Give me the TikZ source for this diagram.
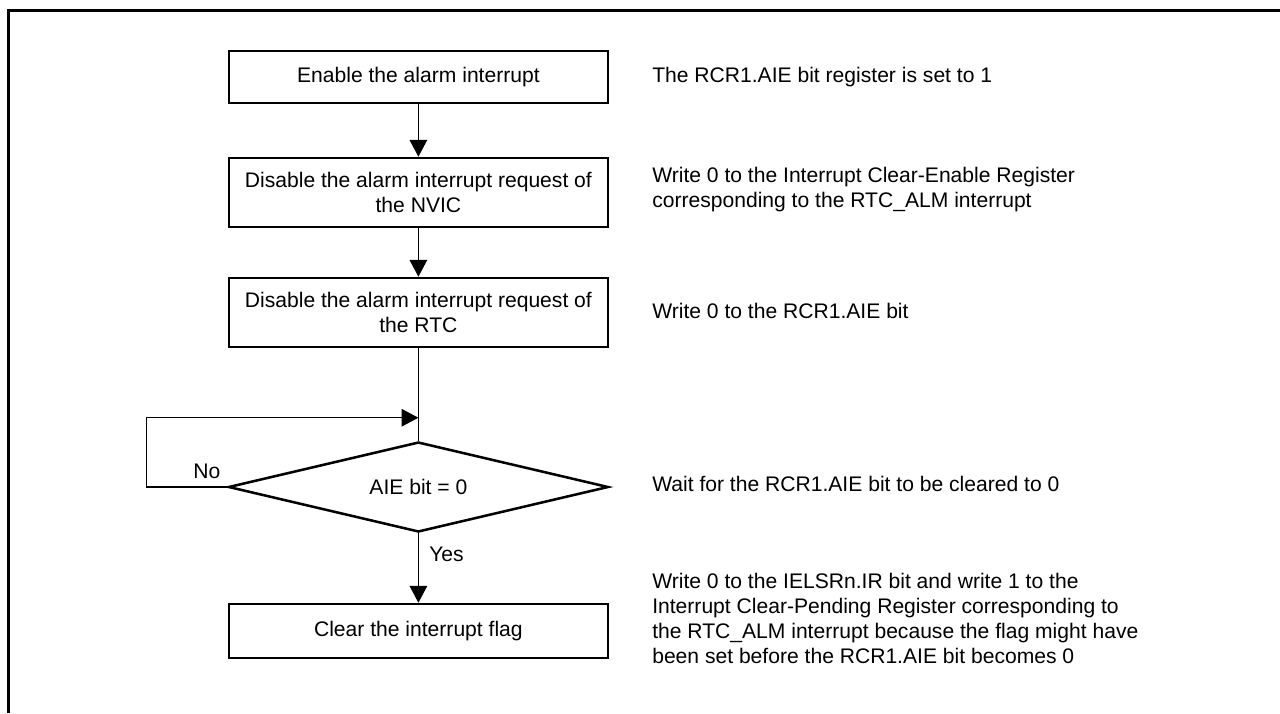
\documentclass[tikz,border=0pt]{standalone}
\usepackage{fontspec}
\setmainfont{Liberation Sans}
\usepackage{tikz}
\usetikzlibrary{shapes.geometric,arrows.meta,positioning,calc}

\begin{document}
\begin{tikzpicture}[
    stepbox/.style={draw, line width=1.8pt, minimum width=9.475cm, inner sep=0pt, align=center},
    decision/.style={draw, diamond, line width=1.8pt, minimum width=9.5cm, minimum height=2.25cm, aspect=4.2, inner sep=0pt},
    note/.style={anchor=west, inner sep=0pt, align=left},
    arrow/.style={-{Triangle[length=12pt, width=12.5pt]}, line width=0.9pt},
    link/.style={line width=0.9pt},
    font=\fontsize{15pt}{17.8pt}\selectfont
]
    \useasboundingbox (0,0) rectangle (32,-17.825);
    % outer frame (open at right and bottom)
    \draw[line width=2.1pt] (0.2125,-17.825) -- (0.2125,-0.2625) -- (32,-0.2625);

    \node[stepbox, minimum height=1.3cm] (enable) at (10.46,-1.925) {Enable the alarm interrupt};
    \node[stepbox, minimum height=1.725cm] (nvic) at (10.46,-4.8125) {Disable the alarm interrupt request of\\the NVIC};
    \node[stepbox, minimum height=1.725cm] (rtc) at (10.46,-7.8125) {Disable the alarm interrupt request of\\the RTC};
    \node[decision] (aie) at (10.46,-12.175) {AIE bit = 0};
    \node[stepbox, minimum height=1.35cm] (clear) at (10.46,-15.775) {Clear the interrupt flag};

    \node[note] (n1) at (16.3,-1.925) {The RCR1.AIE bit register is set to 1};
    \node[note] (n2) at (16.3,-4.74) {Write 0 to the Interrupt Clear-Enable Register\\corresponding to the RTC\_ALM interrupt};
    \node[note] (n3) at (16.3,-7.78) {Write 0 to the RCR1.AIE bit};
    \node[note] (n4) at (16.3,-12.1) {Wait for the RCR1.AIE bit to be cleared to 0};
    \node[note] (n5) at (16.3,-15.45) {Write 0 to the IELSRn.IR bit and write 1 to the\\Interrupt Clear-Pending Register corresponding to\\the RTC\_ALM interrupt because the flag might have\\been set before the RCR1.AIE bit becomes 0};

    \coordinate (merge) at ($(aie.north)+(0,0.575)$);

    \draw[arrow] (enable) -- (nvic);
    \draw[arrow] (nvic) -- (rtc);
    \draw[link] (rtc) -- (aie);
    \draw[arrow] (aie.west) -- node[above, pos=0.25, yshift=2pt] {No} ++(-2.025,0) |- (merge);
    \draw[arrow] (aie.south) -- node[right, pos=0.3, xshift=4pt] {Yes} (clear);
\end{tikzpicture}
\end{document}
